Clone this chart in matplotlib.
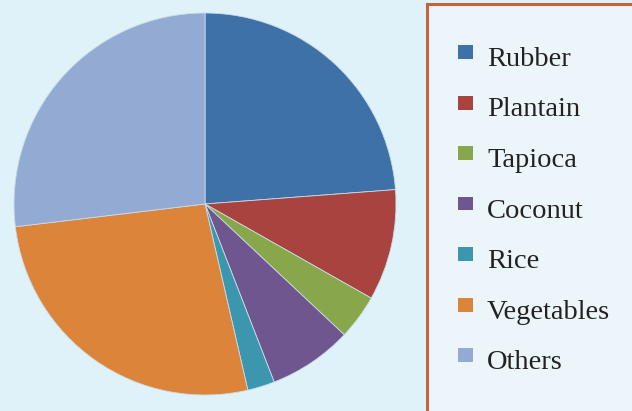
import matplotlib.pyplot as plt
from matplotlib.patches import Rectangle

# crop shares (percent)
labels = ["Rubber", "Plantain", "Tapioca", "Coconut", "Rice", "Vegetables", "Others"]
shares = [23.8, 9.4, 3.8, 7.1, 2.3, 26.7, 26.9]
colors = ["#3f71a9", "#a8433f", "#88a64a", "#70568f", "#3c97ae", "#dc843a", "#93abd3"]

W, H = 632, 411
bg = "#dff2fa"

fig = plt.figure(figsize=(W / 100, H / 100), dpi=100, facecolor=bg)

# pie axes: center (205, 204) px, radius 191 px
cx, cy, r = 205, 204, 191
ax = fig.add_axes([(cx - r) / W, (H - cy - r) / H, 2 * r / W, 2 * r / H])
ax.set_facecolor(bg)
ax.pie(shares, colors=colors, startangle=90, counterclock=False, radius=1,
       wedgeprops=dict(edgecolor="#c9dbe9", linewidth=0.6))
ax.set_xlim(-1, 1)
ax.set_ylim(-1, 1)
ax.axis("off")

# legend box
def px(x, y):
    return x / W, 1 - y / H

x0, y0 = px(427, 4)
fig.patches.append(Rectangle((x0, -0.05), 1.1 - x0, y0 + 0.05, transform=fig.transFigure,
                             facecolor="#ecf6fa", edgecolor="#c5643a", linewidth=2.2,
                             zorder=0))

for i, (lab, col) in enumerate(zip(labels, colors)):
    base = 66 + i * 50.5
    sx, sy = px(458, base - 7)
    fig.patches.append(Rectangle((sx, sy), 15 / W, 14 / H, transform=fig.transFigure,
                                 facecolor=col, edgecolor="none", zorder=2))
    tx, ty = px(487, base)
    fig.text(tx, ty, lab, fontsize=20.5, family="Liberation Serif", color="#222222",
             va="baseline", ha="left")

fig.savefig("out.png", dpi=100, facecolor=bg)
